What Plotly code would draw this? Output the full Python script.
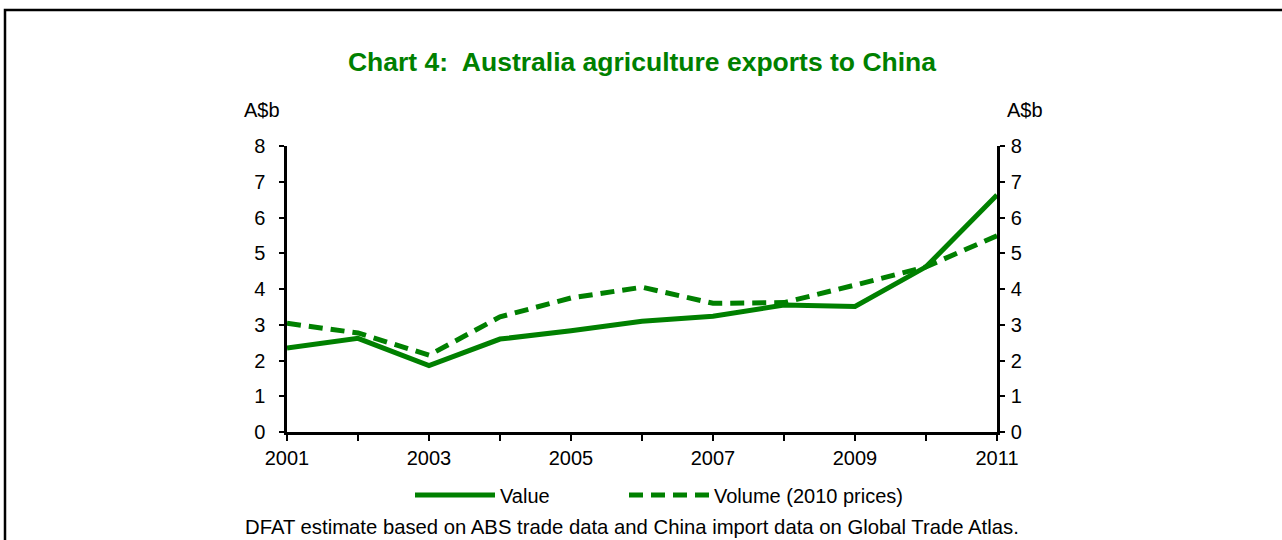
import plotly.graph_objects as go

years = [2001, 2002, 2003, 2004, 2005, 2006, 2007, 2008, 2009, 2010, 2011]
value = [2.35, 2.62, 1.86, 2.60, 2.83, 3.10, 3.24, 3.55, 3.51, 4.62, 6.63]
volume = [3.04, 2.77, 2.15, 3.22, 3.75, 4.05, 3.60, 3.62, 4.11, 4.62, 5.49]
xtick_labels = ["2001", "", "2003", "", "2005", "", "2007", "", "2009", "", "2011"]
ytick_vals = [0, 1, 2, 3, 4, 5, 6, 7, 8]

GREEN = "#008000"
W, H = 1282, 540
L, R, T, B = 287, 285, 146, 108
pw, ph = W - L - R, H - T - B


def px_x(p):
    return (p - L) / pw


def px_y(p):
    return (H - B - p) / ph


FAM = "Arial, Liberation Sans, sans-serif"
font = dict(family=FAM, size=20, color="black")

fig = go.Figure()
fig.add_trace(go.Scatter(x=years, y=value, name="Value", mode="lines",
                         line=dict(color=GREEN, width=5), legend="legend"))
fig.add_trace(go.Scatter(x=years, y=volume, name="Volume (2010 prices)", mode="lines",
                         line=dict(color=GREEN, width=5, dash="14px,8px"), legend="legend2"))
# invisible trace to drive right axis
fig.add_trace(go.Scatter(x=years, y=volume, yaxis="y2", mode="lines",
                         line=dict(width=0), showlegend=False, hoverinfo="skip", opacity=0))

legend_common = dict(orientation="h", xref="paper", xanchor="left",
                     y=px_y(495), yanchor="middle", itemwidth=80,
                     font=dict(family=FAM, size=20, color="black"),
                     bgcolor="rgba(0,0,0,0)", itemsizing="trace")

fig.update_layout(
    width=W, height=H,
    margin=dict(l=L, r=R, t=T, b=B),
    paper_bgcolor="white", plot_bgcolor="white",
    font=font,
    showlegend=True,
    title=dict(text="<b>Chart 4:  Australia agriculture exports to China</b>",
               font=dict(family=FAM, size=26.5, color=GREEN),
               x=0.5, xanchor="center", xref="paper", y=1 - 62 / H, yanchor="middle", yref="container"),
    xaxis=dict(range=[2001, 2011], tickvals=years, ticktext=xtick_labels,
               showgrid=False, zeroline=False, showline=True, linecolor="black", linewidth=2.5,
               ticks="outside", ticklen=6, tickwidth=2, tickcolor="black",
               tickfont=font),
    yaxis=dict(range=[0, 8], tickvals=ytick_vals, showgrid=False, zeroline=False,
               showline=True, linecolor="black", linewidth=2.5,
               ticks="outside", ticklen=5, tickwidth=2, tickcolor="black",
               ticklabelstandoff=10, tickfont=font),
    yaxis2=dict(range=[0, 8], tickvals=ytick_vals, overlaying="y", side="right",
                showgrid=False, zeroline=False, showline=True, linecolor="black", linewidth=2.5,
                ticks="outside", ticklen=5, tickwidth=2, tickcolor="black",
                ticklabelstandoff=2, tickfont=font),
    legend=dict(x=px_x(410), **legend_common),
    legend2=dict(x=px_x(624), **legend_common),
    annotations=[
        dict(text="A$b", x=px_x(262), y=px_y(110), xref="paper", yref="paper",
             showarrow=False, font=font, xanchor="center", yanchor="middle"),
        dict(text="A$b", x=px_x(1025), y=px_y(110), xref="paper", yref="paper",
             showarrow=False, font=font, xanchor="center", yanchor="middle"),
        dict(text="DFAT estimate based on ABS trade data and China import data on Global Trade Atlas.",
             x=px_x(632), y=px_y(527), xref="paper", yref="paper",
             showarrow=False, font=dict(family=FAM, size=20.3, color="black"),
             xanchor="center", yanchor="middle"),
    ],
    shapes=[
        dict(type="rect", xref="paper", yref="paper",
             x0=px_x(5), x1=px_x(1300), y0=px_y(560), y1=px_y(10),
             line=dict(color="black", width=2.5), fillcolor="rgba(0,0,0,0)", layer="below"),
    ],
)

fig.write_html("out.html", config={"displayModeBar": False},
               post_script="document.body.style.margin='0px';document.body.style.overflow='hidden';")
